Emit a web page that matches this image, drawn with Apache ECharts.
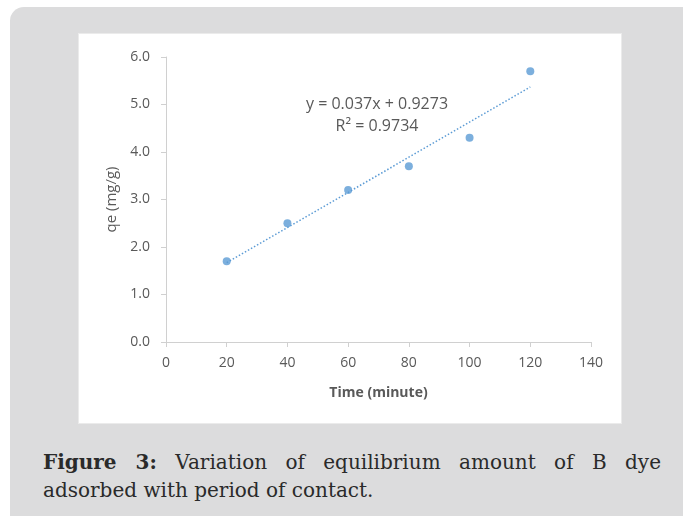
<!DOCTYPE html>
<html>
<head>
<meta charset="utf-8">
<script src="https://cdn.jsdelivr.net/npm/echarts@6/dist/echarts.min.js"></script>
<style>
  html, body { margin: 0; padding: 0; background: #fff; width: 683px; height: 516px; overflow: hidden; }
  #panel { position: absolute; left: 10px; top: 7px; width: 690px; height: 530px; background: #dcdcdd; border-radius: 14px; }
  #box { position: absolute; left: 78px; top: 33px; width: 542px; height: 389px; background: #fff; border: 1px solid #ebebeb; }
  #chart { width: 542px; height: 389px; }
  #caption { position: absolute; left: 43px; top: 448px; width: 618px; font-family: "DejaVu Serif", serif; font-size: 20px; line-height: 28px; color: #2a2a2a; }
  #caption .l1 { text-align: justify; text-align-last: justify; }
</style>
</head>
<body>
<div id="panel"></div>
<div id="box"><div id="chart"></div></div>
<div id="caption"><div class="l1"><b>Figure 3:</b> Variation of equilibrium amount of B dye</div><div>adsorbed with period of contact.</div></div>
<script>
// contact time (minute) and qe (mg/g)
const time = [20, 40, 60, 80, 100, 120];
const qe = [1.7, 2.5, 3.2, 3.7, 4.3, 5.7];
// linear trendline ends
const trendX = [20, 120];
const trendY = [1.67, 5.37];
const eqText = 'y = 0.037x + 0.9273';
const r2Text = 'R² = 0.9734';

const chart = echarts.init(document.getElementById('chart'));
const grey = '#595959';
const font = '"Open Sans", sans-serif';

const option = {
	animation: false,
	grid: { left: 87, top: 23, width: 425, height: 285 },
	xAxis: {
		type: 'value',
		min: 0, max: 140, interval: 20,
		name: 'Time (minute)',
		nameLocation: 'middle',
		nameGap: 44,
		nameTextStyle: { color: grey, fontFamily: font, fontSize: 14, fontWeight: 'bold' },
		axisLine: { lineStyle: { color: '#d0d0d0' } },
		axisTick: { length: 5, lineStyle: { color: '#d0d0d0' } },
		axisLabel: { color: grey, fontFamily: font, fontSize: 14, margin: 14 },
		splitLine: { show: false }
	},
	yAxis: {
		type: 'value',
		min: 0, max: 6, interval: 1,
		name: 'qe (mg/g)',
		nameLocation: 'middle',
		nameGap: 45,
		nameTextStyle: { color: grey, fontFamily: font, fontSize: 15 },
		axisLine: { show: true, lineStyle: { color: '#d0d0d0' } },
		axisTick: { show: true, length: 5, lineStyle: { color: '#d0d0d0' } },
		axisLabel: { color: grey, fontFamily: font, fontSize: 14, margin: 16, formatter: v => v.toFixed(1) },
		splitLine: { show: false }
	},
	series: [
		{
			type: 'line',
			data: trendX.map((x, i) => [x, trendY[i]]),
			symbol: 'none',
			lineStyle: { color: '#5b9bd5', width: 1.5, type: [1.5, 2] },
			z: 1
		},
		{
			type: 'scatter',
			data: time.map((x, i) => [x, qe[i]]),
			symbolSize: 8,
			itemStyle: { color: '#5b9bd5' },
			z: 2
		}
	],
	graphic: [
		{ type: 'text', x: 298, y: 70, style: { text: eqText, fill: grey, font: '16px ' + font, align: 'center', verticalAlign: 'middle' } },
		{ type: 'text', x: 298, y: 92, style: { text: r2Text, fill: grey, font: '16px ' + font, align: 'center', verticalAlign: 'middle' } }
	]
};

chart.setOption(option);
</script>
</body>
</html>
